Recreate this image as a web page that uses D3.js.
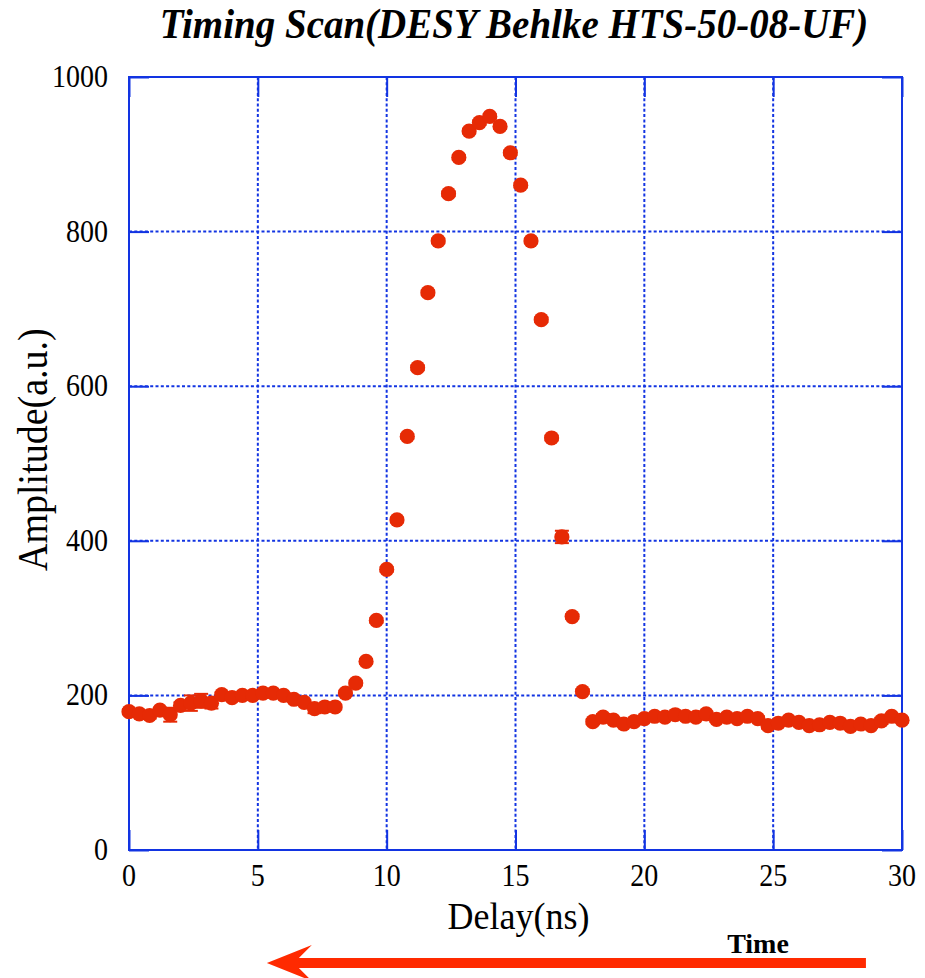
<!DOCTYPE html>
<html>
<head>
<meta charset="utf-8">
<script src="https://cdn.jsdelivr.net/npm/d3@7"></script>
<style>
  body { margin: 0; background: #fff; }
  text { font-family: "Liberation Serif", "Times New Roman", serif; }
</style>
</head>
<body>
<div id="timing-scan"></div>
<script>
// delay (ns) and measured amplitude (a.u.)
var delays = [0.0, 0.4, 0.8, 1.2, 1.6, 2.0, 2.4, 2.8, 3.2, 3.6, 4.0, 4.4, 4.8, 5.2, 5.6, 6.0, 6.4, 6.8, 7.2, 7.6,
  8.0, 8.4, 8.8, 9.2, 9.6, 10.0, 10.4, 10.8, 11.2, 11.6, 12.0, 12.4, 12.8, 13.2, 13.6, 14.0, 14.4, 14.8, 15.2, 15.6,
  16.0, 16.4, 16.8, 17.2, 17.6, 18.0, 18.4, 18.8, 19.2, 19.6, 20.0, 20.4, 20.8, 21.2, 21.6, 22.0, 22.4, 22.8, 23.2, 23.6,
  24.0, 24.4, 24.8, 25.2, 25.6, 26.0, 26.4, 26.8, 27.2, 27.6, 28.0, 28.4, 28.8, 29.2, 29.6, 30.0];
var amplitudes = [179, 176, 174, 181, 175, 187, 190, 193, 190, 201, 197, 200, 200, 203, 203, 200, 195, 191, 183, 185,
  185, 203, 216, 244, 297, 363, 427, 535, 624, 721, 788, 849, 896, 930, 941, 949, 936, 902, 860, 788,
  686, 533, 405, 302, 205, 166, 172, 168, 163, 166, 170, 173, 172, 175, 173, 172, 176, 169, 172, 170,
  173, 170, 161, 164, 168, 165, 161, 162, 165, 164, 160, 163, 161, 167, 173, 168];
var errors = [3, 3, 4, 3, 9, 4, 10, 9, 7, 3, 3, 3, 3, 3, 3, 3, 3, 3, 6, 3,
  3, 3, 3, 3, 3, 3, 3, 3, 3, 3, 3, 3, 3, 3, 3, 3, 3, 3, 3, 3,
  3, 3, 8, 3, 3, 3, 4, 3, 3, 3, 3, 3, 3, 3, 3, 3, 3, 3, 3, 3,
  3, 3, 4, 3, 3, 3, 3, 3, 3, 3, 4, 3, 3, 4, 3, 3];
var xTicks = [0, 5, 10, 15, 20, 25, 30];
var yTicks = [0, 200, 400, 600, 800, 1000];

function drawChart() {
  var margins = { left: 129, right: 23, top: 77, bottom: 128 };
  var width = 925, height = 978;
  var frameWidth = width - margins.left - margins.right;
  var frameHeight = height - margins.top - margins.bottom;
  var blue = '#1234e2', red = '#e62a05';

  var svg = d3.select('#timing-scan').append('svg')
    .attr('width', width)
    .attr('height', height);
  var g = svg.append('g')
    .attr('transform', 'translate(' + margins.left + ',' + margins.top + ')');

  var xScale = d3.scaleLinear().domain([0, 30]).range([0, frameWidth]);
  var yScale = d3.scaleLinear().domain([0, 1000]).range([frameHeight, 0]);

  // the original lettering is a bit taller than plain Times, so stretch it vertically
  function label(parent, x, y, str, size, stretch, extra) {
    var t = parent.append('text')
      .attr('transform', 'translate(' + x + ',' + y + ') ' + (extra || '') + ' scale(1,' + stretch + ')')
      .style('font-size', size + 'px')
      .text(str);
    return t;
  }

  // dotted grid
  g.append('g').selectAll('line')
    .data(xTicks.slice(1, -1))
    .enter().append('line')
      .attr('x1', function(d) { return xScale(d); })
      .attr('x2', function(d) { return xScale(d); })
      .attr('y1', 0).attr('y2', frameHeight)
      .attr('stroke', blue).attr('stroke-width', 2)
      .attr('stroke-dasharray', '3,2.3');
  g.append('g').selectAll('line')
    .data(yTicks.slice(1, -1))
    .enter().append('line')
      .attr('y1', function(d) { return yScale(d); })
      .attr('y2', function(d) { return yScale(d); })
      .attr('x1', 0).attr('x2', frameWidth)
      .attr('stroke', blue).attr('stroke-width', 2)
      .attr('stroke-dasharray', '3,2.3');

  // inward ticks on all four sides
  var tickLen = 20;
  function styleAxis(sel) {
    sel.select('.domain').remove();
    sel.selectAll('.tick line').attr('stroke', blue).attr('stroke-width', 2);
    sel.selectAll('.tick text').remove();
  }
  g.append('g').attr('transform', 'translate(0,' + frameHeight + ')')
    .call(d3.axisBottom(xScale).tickValues(xTicks).tickSize(-tickLen)).call(styleAxis);
  g.append('g')
    .call(d3.axisTop(xScale).tickValues(xTicks).tickSize(-tickLen)).call(styleAxis);
  g.append('g')
    .call(d3.axisLeft(yScale).tickValues(yTicks).tickSize(-tickLen)).call(styleAxis);
  g.append('g').attr('transform', 'translate(' + frameWidth + ',0)')
    .call(d3.axisRight(yScale).tickValues(yTicks).tickSize(-tickLen)).call(styleAxis);

  g.append('rect')
    .attr('width', frameWidth).attr('height', frameHeight)
    .attr('fill', 'none').attr('stroke', blue).attr('stroke-width', 2);

  // tick labels
  var xl = g.append('g').attr('text-anchor', 'middle');
  xTicks.forEach(function(d) {
    label(xl, xScale(d), frameHeight + 36, d, 28, 1.15);
  });
  var yl = g.append('g').attr('text-anchor', 'end');
  yTicks.forEach(function(d) {
    label(yl, -21, yScale(d) + 10, d, 28, 1.15);
  });

  // axis titles
  label(svg, margins.left + xScale(15) + 3, 929, 'Delay(ns)', 36, 1.05)
    .attr('text-anchor', 'middle');
  label(svg, 47, margins.top + yScale(518), 'Amplitude(a.u.)', 38, 1.1, 'rotate(-90)')
    .attr('text-anchor', 'middle');
  label(svg, 514, 38, 'Timing Scan(DESY Behlke HTS-50-08-UF)', 39, 1.1)
    .attr('text-anchor', 'middle')
    .style('font-weight', 'bold')
    .style('font-style', 'italic');

  // error bars
  var bars = g.append('g');
  delays.forEach(function(d, i) {
    var x = xScale(d), lo = yScale(amplitudes[i] - errors[i]), hi = yScale(amplitudes[i] + errors[i]);
    bars.append('line').attr('x1', x).attr('x2', x).attr('y1', lo).attr('y2', hi)
      .attr('stroke', red).attr('stroke-width', 2);
    [lo, hi].forEach(function(y) {
      bars.append('line').attr('x1', x - 7).attr('x2', x + 7).attr('y1', y).attr('y2', y)
        .attr('stroke', red).attr('stroke-width', 2);
    });
  });

  // points
  g.append('g').selectAll('circle')
    .data(delays)
    .enter().append('circle')
      .attr('cx', function(d) { return xScale(d); })
      .attr('cy', function(d, i) { return yScale(amplitudes[i]); })
      .attr('r', 7.6)
      .attr('fill', red);

  // "Time" arrow running toward shorter delay
  var ax0 = margins.left + xScale(28.6), ax1 = margins.left + xScale(5.35), ay = 963;
  svg.append('path')
    .attr('d', 'M' + ax1 + ',' + ay + 'L' + (ax1 + 45) + ',' + (ay - 18) + 'L' + (ax1 + 32) + ',' + (ay - 5) +
      'L' + ax0 + ',' + (ay - 5) + 'L' + ax0 + ',' + (ay + 5) + 'L' + (ax1 + 32) + ',' + (ay + 5) +
      'L' + (ax1 + 45) + ',' + (ay + 18) + 'Z')
    .attr('fill', '#ff2a00');
  label(svg, 758, 953, 'Time', 28, 1.0)
    .attr('text-anchor', 'middle')
    .style('font-weight', 'bold');
}

drawChart();
</script>
</body>
</html>
